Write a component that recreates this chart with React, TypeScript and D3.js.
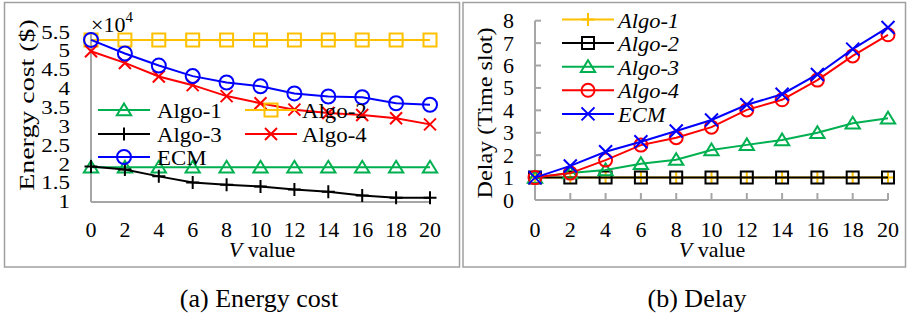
import React from "react";
import * as d3 from "d3";

const vValues = [0, 2, 4, 6, 8, 10, 12, 14, 16, 18, 20];
const xTicks = [0, 2, 4, 6, 8, 10, 12, 14, 16, 18, 20];

// (a) Energy cost (x10^4)
const energyTicks = [1, 1.5, 2, 2.5, 3, 3.5, 4, 4.5, 5, 5.5];
const energyTickLabels = ["1", "1.5", "2", "2.5", "3", "3.5", "4", "4.5", "5", "5.5"];
const energyAlgo1 = [1.92, 1.92, 1.92, 1.92, 1.92, 1.92, 1.92, 1.92, 1.92, 1.92, 1.92];
const energyAlgo2 = [5.3, 5.3, 5.3, 5.3, 5.3, 5.3, 5.3, 5.3, 5.3, 5.3, 5.3];
const energyAlgo3 = [1.94, 1.86, 1.68, 1.52, 1.46, 1.41, 1.33, 1.27, 1.17, 1.11, 1.11];
const energyAlgo4 = [5.0, 4.69, 4.33, 4.1, 3.81, 3.62, 3.45, 3.36, 3.31, 3.22, 3.06];
const energyECM = [5.3, 4.94, 4.62, 4.34, 4.17, 4.07, 3.88, 3.8, 3.78, 3.62, 3.58];

// (b) Delay
const delayTicks = [0, 1, 2, 3, 4, 5, 6, 7, 8];
const delayAlgo1 = [1, 1, 1, 1, 1, 1, 1, 1, 1, 1, 1];
const delayAlgo2 = [1, 1, 1, 1, 1, 1, 1, 1, 1, 1, 1];
const delayAlgo3 = [1, 1.2, 1.34, 1.62, 1.8, 2.23, 2.46, 2.68, 3.0, 3.42, 3.65];
const delayAlgo4 = [1, 1.2, 1.78, 2.45, 2.78, 3.25, 4.02, 4.47, 5.35, 6.43, 7.37];
const delayECM = [1, 1.52, 2.15, 2.6, 3.08, 3.57, 4.25, 4.72, 5.6, 6.73, 7.7];

const GREEN = "#00B050";
const ORANGE = "#FFC000";
const RED = "#FF0000";
const BLUE = "#0000FF";
const BLACK = "#000000";
const AXIS = "#A6A6A6";
const FONT = "'Liberation Serif', 'Times New Roman', serif";

type MarkerKind = "circle" | "square" | "triangle" | "x" | "plus";

function markerPath(kind: MarkerKind, s: number): string {
  const p = d3.path();
  if (kind === "circle") {
    p.arc(0, 0, s, 0, Math.PI * 2);
    p.closePath();
  } else if (kind === "square") {
    p.rect(-s, -s, 2 * s, 2 * s);
  } else if (kind === "triangle") {
    p.moveTo(0, -s);
    p.lineTo(s * 1.1, s * 0.8);
    p.lineTo(-s * 1.1, s * 0.8);
    p.closePath();
  } else if (kind === "x") {
    p.moveTo(-s, -s);
    p.lineTo(s, s);
    p.moveTo(-s, s);
    p.lineTo(s, -s);
  } else {
    p.moveTo(-s, 0);
    p.lineTo(s, 0);
    p.moveTo(0, -s);
    p.lineTo(0, s);
  }
  return p.toString();
}

type Series = { name: string; values: number[]; color: string; marker: MarkerKind; size: number };

function Label(props: {
  x: number;
  y: number;
  text: React.ReactNode;
  size: number;
  sx?: number;
  sy?: number;
  anchor?: "start" | "middle" | "end";
  rotate?: number;
  italic?: boolean;
}) {
  const { x, y, text, size, sx = 1, sy = 1, anchor = "start", rotate = 0, italic } = props;
  return (
    <g transform={`translate(${x},${y}) rotate(${rotate}) scale(${sx},${sy})`}>
      <text
        x={0}
        y={0}
        fontSize={size}
        fontFamily={FONT}
        fontStyle={italic ? "italic" : "normal"}
        textAnchor={anchor}
        fill="#000"
      >
        {text}
      </text>
    </g>
  );
}

function Lines(props: {
  series: Series[];
  x: d3.ScaleLinear<number, number>;
  y: d3.ScaleLinear<number, number>;
}) {
  const { series, x, y } = props;
  const line = d3
    .line<number>()
    .x((_, i) => x(vValues[i]))
    .y((d) => y(d));
  return (
    <g>
      {series.map((s) => (
        <g key={s.name}>
          <path d={line(s.values) || ""} fill="none" stroke={s.color} strokeWidth={2} />
          {s.values.map((v, i) => (
            <path
              key={i}
              transform={`translate(${x(vValues[i])},${y(v)})`}
              d={markerPath(s.marker, s.size)}
              fill="none"
              stroke={s.color}
              strokeWidth={2}
            />
          ))}
        </g>
      ))}
    </g>
  );
}

function LegendItem(props: {
  s: Series;
  x0: number;
  x1: number;
  y: number;
  tx: number;
  size: number;
  sx: number;
  italic?: boolean;
}) {
  const { s, x0, x1, y, tx, size, sx, italic } = props;
  return (
    <g>
      <line x1={x0} x2={x1} y1={y} y2={y} stroke={s.color} strokeWidth={2} />
      <path
        transform={`translate(${(x0 + x1) / 2},${y})`}
        d={markerPath(s.marker, s.size)}
        fill="none"
        stroke={s.color}
        strokeWidth={2}
      />
      <Label x={tx} y={y + 8} text={s.name} size={size} sx={sx} italic={italic} />
    </g>
  );
}

function EnergyPanel() {
  const x = d3.scaleLinear().domain([0, 20]).range([91, 430]);
  const y = d3.scaleLinear().domain([1, 5.5]).range([202, 32.4]);
  const series: Series[] = [
    { name: "Algo-1", values: energyAlgo1, color: GREEN, marker: "triangle", size: 6.5 },
    { name: "Algo-2", values: energyAlgo2, color: ORANGE, marker: "square", size: 6.5 },
    { name: "Algo-3", values: energyAlgo3, color: BLACK, marker: "plus", size: 6.5 },
    { name: "Algo-4", values: energyAlgo4, color: RED, marker: "x", size: 6 },
    { name: "ECM", values: energyECM, color: BLUE, marker: "circle", size: 7 },
  ];
  const legendPos = [
    { x0: 98, x1: 150, y: 110, tx: 157 },
    { x0: 245, x1: 297, y: 110, tx: 302 },
    { x0: 98, x1: 150, y: 134, tx: 157 },
    { x0: 245, x1: 297, y: 134, tx: 302 },
    { x0: 98, x1: 150, y: 157, tx: 157 },
  ];
  return (
    <g>
      <rect x={4.5} y={2.5} width={455} height={264.5} fill="none" stroke="#A0A0A0" strokeWidth={1.5} />
      <line x1={x(0)} x2={x(0)} y1={y(5.5)} y2={y(1)} stroke={AXIS} strokeWidth={2} />
      <line x1={x(0)} x2={x(20)} y1={y(1)} y2={y(1)} stroke={AXIS} strokeWidth={2} />
      {energyTicks.map((t, i) => (
        <Label key={t} x={70} y={y(t) + 6.2} text={energyTickLabels[i]} size={23} sy={0.8} anchor="end" />
      ))}
      {xTicks.map((t) => (
        <Label key={t} x={x(t)} y={237} text={String(t)} size={22} anchor="middle" />
      ))}
      <text x={91} y={32} fontSize={22} fontFamily={FONT}>
        ×10
        <tspan dy={-10} fontSize={15}>4</tspan>
      </text>
      <Lines series={series} x={x} y={y} />
      {series.map((s, i) => (
        <LegendItem key={s.name} s={s} {...legendPos[i]} size={22} sx={1.04} />
      ))}
      <Label x={262} y={257} text={<><tspan fontStyle="italic">V</tspan> value</>} size={22} anchor="middle" />
      <Label x={34} y={105} text="Energy cost ($)" size={22} sx={1.27} rotate={-90} anchor="middle" />
    </g>
  );
}

function DelayPanel() {
  const x = d3.scaleLinear().domain([0, 20]).range([535, 888]);
  const y = d3.scaleLinear().domain([0, 8]).range([200, 20.7]);
  const series: Series[] = [
    { name: "Algo-1", values: delayAlgo1, color: ORANGE, marker: "plus", size: 6.5 },
    { name: "Algo-2", values: delayAlgo2, color: BLACK, marker: "square", size: 6 },
    { name: "Algo-3", values: delayAlgo3, color: GREEN, marker: "triangle", size: 6.5 },
    { name: "Algo-4", values: delayAlgo4, color: RED, marker: "circle", size: 6.5 },
    { name: "ECM", values: delayECM, color: BLUE, marker: "x", size: 6.5 },
  ];
  return (
    <g>
      <rect x={463} y={2.5} width={442.5} height={264.5} fill="none" stroke="#A0A0A0" strokeWidth={1.5} />
      <line x1={x(0)} x2={x(0)} y1={y(8)} y2={y(0)} stroke={AXIS} strokeWidth={2} />
      <line x1={x(0)} x2={x(20)} y1={y(0)} y2={y(0)} stroke={AXIS} strokeWidth={2} />
      {delayTicks.map((t) => (
        <line key={t} x1={x(0)} x2={x(0) + 6} y1={y(t)} y2={y(t)} stroke={AXIS} strokeWidth={2} />
      ))}
      {xTicks.map((t) => (
        <line key={t} x1={x(t)} x2={x(t)} y1={y(0)} y2={y(0) - 7} stroke={AXIS} strokeWidth={2} />
      ))}
      {delayTicks.map((t) => (
        <Label key={t} x={514} y={y(t) + 7.5} text={String(t)} size={22} anchor="end" />
      ))}
      {xTicks.map((t) => (
        <Label key={t} x={x(t)} y={237} text={String(t)} size={22} anchor="middle" />
      ))}
      <Lines series={series} x={x} y={y} />
      {series.map((s, i) => (
        <LegendItem key={s.name} s={s} x0={562} x1={614} y={19.5 + i * 23.6} tx={618} size={22} sx={1.02} italic />
      ))}
      <Label x={712} y={257} text={<><tspan fontStyle="italic">V</tspan> value</>} size={22} anchor="middle" />
      <Label x={492} y={113} text="Delay (Time slot)" size={22} sx={1.1} rotate={-90} anchor="middle" />
    </g>
  );
}

export default function App() {
  return (
    <div style={{ position: "absolute", left: 0, top: 0 }}>
      <svg width={907} height={322} style={{ display: "block", background: "#fff" }}>
        <EnergyPanel />
        <DelayPanel />
        <Label x={259} y={306.5} text="(a) Energy cost" size={26} anchor="middle" />
        <Label x={697} y={306.5} text="(b) Delay" size={26} anchor="middle" />
      </svg>
    </div>
  );
}
